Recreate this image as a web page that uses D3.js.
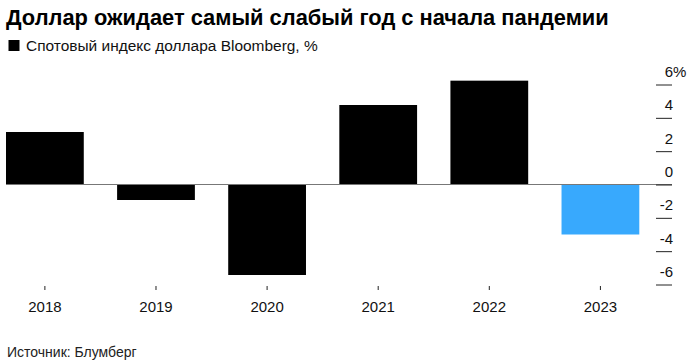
<!DOCTYPE html>
<meta charset="utf-8">
<script src="https://d3js.org/d3.v7.min.js"></script>
<style>
body { margin: 0; background: #fff; }
text { font-family: "Liberation Sans", Arial, sans-serif; }
.title { font-weight: bold; font-size: 22px; fill: #000; }
.subtitle { font-size: 14.5px; fill: #111; }
.source { font-size: 14px; fill: #222; }
.axis text { font-size: 15px; fill: #111; }
.axis line { stroke: #222; }
.axis path { display: none; }
</style>
<body>
<script>
  // DATA
  const years = ["2018", "2019", "2020", "2021", "2022", "2023"];
  const changes = [3.15, -0.93, -5.43, 4.77, 6.23, -3.0];
  const yTicks = [6, 4, 2, 0, -2, -4, -6];

  const width = 694;
  const height = 364;

  const barLeft = 6;
  const barRight = 639.3;
  const zeroLineEnd = 672;
  const tickLeft = 656;

  const SVG = d3.select("body").append("svg")
    .attr("width", width)
    .attr("height", height);

  const xScale = d3.scaleBand()
    .domain(years)
    .range([barLeft, barRight])
    .paddingInner(0.3)
    .paddingOuter(0);

  const yScale = d3.scaleLinear()
    .domain([-6, 6])
    .range([284.5, 84.5]);

  // TITLE + SUBTITLE
  function fit(sel, target) {
    const w = sel.node().getComputedTextLength();
    const fs = parseFloat(sel.style("font-size"));
    sel.style("font-size", (fs * target / w) + "px");
  }

  const title = SVG.append("text")
    .attr("class", "title")
    .attr("x", 6)
    .attr("y", 25)
    .text("Доллар ожидает самый слабый год с начала пандемии");
  fit(title, 603);

  SVG.append("rect")
    .attr("x", 8.5)
    .attr("y", 40)
    .attr("width", 11)
    .attr("height", 11)
    .attr("fill", "#000");

  const subtitle = SVG.append("text")
    .attr("class", "subtitle")
    .attr("x", 26)
    .attr("y", 51)
    .text("Спотовый индекс доллара Bloomberg, %");
  fit(subtitle, 292);

  // BARS
  SVG.selectAll(".bar")
    .data(years)
    .join("rect")
    .attr("class", "bar")
    .attr("x", d => xScale(d))
    .attr("width", xScale.bandwidth())
    .attr("y", (d, i) => yScale(Math.max(0, changes[i])))
    .attr("height", (d, i) => Math.abs(yScale(changes[i]) - yScale(0)))
    .attr("fill", (d, i) => d === "2023" ? "#38a9fd" : "#000");

  // ZERO LINE
  SVG.append("line")
    .attr("x1", barLeft)
    .attr("x2", zeroLineEnd)
    .attr("y1", yScale(0))
    .attr("y2", yScale(0))
    .attr("stroke", "#777")
    .attr("stroke-width", 1.2);

  // Y AXIS (plain hyphen for negatives, like the original)
  const yAxis = SVG.append("g")
    .attr("class", "axis")
    .attr("transform", `translate(${tickLeft},0)`)
    .call(d3.axisRight(yScale).tickValues(yTicks).tickSize(16).tickFormat(d => String(d)));

  yAxis.selectAll(".tick text")
    .attr("x", 17)
    .attr("dy", 0)
    .attr("y", -8)
    .attr("text-anchor", "end");

  yAxis.selectAll(".tick")
    .filter(d => d === 6)
    .append("text")
    .attr("x", 17)
    .attr("y", -8)
    .attr("fill", "#111")
    .attr("text-anchor", "start")
    .text("%");

  // X AXIS
  const xAxis = SVG.append("g")
    .attr("class", "axis")
    .attr("transform", "translate(0,286)")
    .call(d3.axisBottom(xScale).tickSize(4));

  xAxis.selectAll(".tick text")
    .attr("y", 26)
    .attr("dy", 0);

  // SOURCE
  SVG.append("text")
    .attr("class", "source")
    .attr("x", 7)
    .attr("y", 356.5)
    .text("Источник: Блумберг");
</script>
</body>
